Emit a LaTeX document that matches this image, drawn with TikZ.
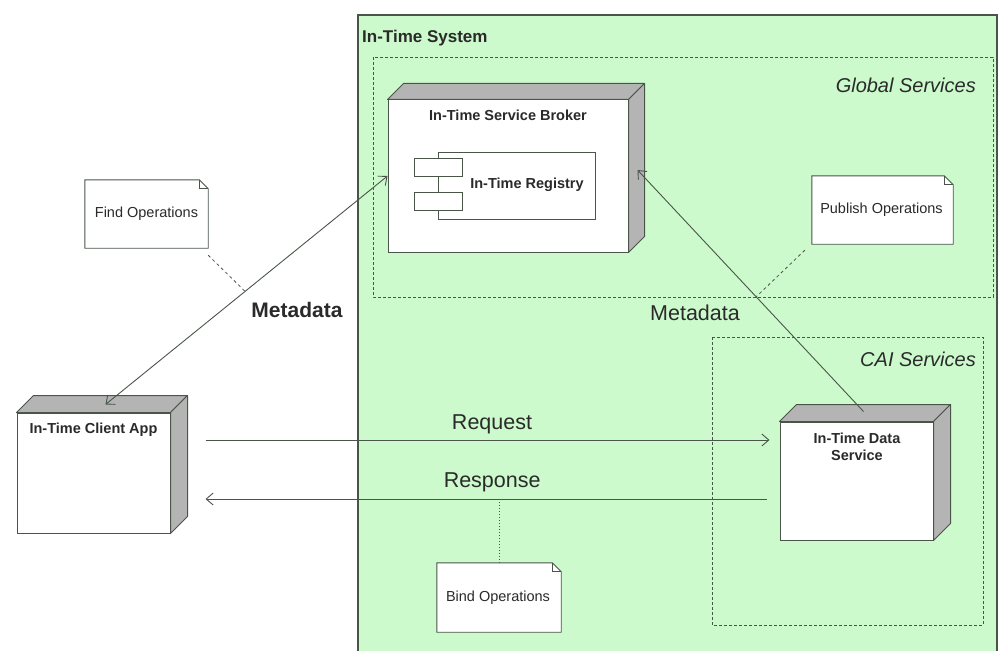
\documentclass[tikz,border=0pt]{standalone}
\usepackage{fontspec}
\setmainfont{Liberation Sans}
\usetikzlibrary{arrows.meta,calc}
\definecolor{sysgreen}{HTML}{CCFACC}
\definecolor{sidegray}{HTML}{B4B4B4}
\definecolor{linec}{HTML}{4A554A}
\definecolor{txt}{HTML}{2A2A2A}
\newcommand\devsides[2]{%
  \filldraw[sidegray,draw=linec,line width=1pt,line join=round] (#1.north west) -- ++(#2pt,#2pt) -- ($(#1.north east)+(#2pt,#2pt)$) -- (#1.north east) -- cycle;
  \filldraw[sidegray,draw=linec,line width=1pt,line join=round] (#1.north east) -- ($(#1.north east)+(#2pt,#2pt)$) -- ($(#1.south east)+(#2pt,#2pt)$) -- (#1.south east) -- cycle;}
\newcommand\noteshape[1]{%
  \filldraw[fill=white,draw=linec,line width=0.9pt] (#1.north west) -- ([xshift=-9pt]#1.north east) -- ([yshift=-9pt]#1.north east) -- (#1.south east) -- (#1.south west) -- cycle;
  \draw[linec,line width=0.9pt] ([xshift=-9pt]#1.north east) |- ([yshift=-9pt]#1.north east);}
\begin{document}
\begin{tikzpicture}[x=1pt,y=-1pt,
  face/.style={draw=linec,fill=white,line width=1pt,rectangle,inner sep=0pt},
  notearea/.style={rectangle,inner sep=0pt,draw=none},
  notetext/.style={font=\fontsize{14.5}{16}\selectfont,text=txt,inner sep=0pt},
  devtitle/.style={font=\fontsize{14.5}{17}\selectfont\bfseries,text=txt,align=center,inner sep=0pt},
  grouplabel/.style={font=\fontsize{20}{22}\selectfont\itshape,text=txt,anchor=east,inner sep=0pt},
  grp/.style={draw=linec,densely dashed,line width=0.8pt},
  arr/.style={draw=linec,line width=0.9pt,-{Straight Barb[length=7pt,width=12pt]}},
  biarr/.style={draw=linec,line width=0.9pt,{Straight Barb[length=7pt,width=12pt]}-{Straight Barb[length=7pt,width=12pt]}},
  msg/.style={font=\fontsize{21.5}{24}\selectfont,text=txt},
  tie/.style={draw=linec,dashed,line width=0.8pt}]
\useasboundingbox (0,0) rectangle (1000,650);
\clip (0,0) rectangle (1000,650);
% system frame
\filldraw[fill=sysgreen,draw=linec,line width=1.2pt] (358,15) rectangle (997,670);
\node[font=\fontsize{17}{19}\selectfont\bfseries,text=txt,anchor=west,inner sep=0pt] (systitle) at (362,38) {In-Time System};
% groups
\draw[grp] (373,57) rectangle (993,297);
\node[grouplabel] (globlabel) at (976,85) {Global Services};
\draw[grp] (712,337) rectangle (983,625);
\node[grouplabel] (cailabel) at (976,359) {CAI Services};
% broker
\node[face,minimum width=240pt,minimum height=152pt] (broker) at (508,176) {};
\devsides{broker}{16}
\node[devtitle] (brokertitle) at (508,115) {In-Time Service Broker};
\node[face,line width=0.9pt,minimum width=157pt,minimum height=67pt] (registry) at (516.5,185.5) {};
\node[face,line width=0.9pt,minimum width=48pt,minimum height=18pt] (regtab1) at (438,167) {};
\node[face,line width=0.9pt,minimum width=48pt,minimum height=18pt] (regtab2) at (438,201) {};
\node[devtitle] (regtitle) at (527,185) {In-Time Registry};
% client
\node[face,minimum width=153pt,minimum height=120pt] (client) at (93.5,473) {};
\devsides{client}{17}
\node[devtitle] (clienttitle) at (93.5,430) {In-Time Client App};
% data service
\node[face,minimum width=153pt,minimum height=118pt] (ds) at (856.5,481) {};
\devsides{ds}{17}
\node[devtitle] (dstitle) at (857,446.5) {In-Time Data\\Service};
% notes
\node[notearea,minimum width=123pt,minimum height=68pt] (findnote) at (146.5,214) {};
\noteshape{findnote}
\node[notetext] (findtext) at (146.5,214) {Find Operations};
\node[notearea,minimum width=141pt,minimum height=68pt] (pubnote) at (882.5,210) {};
\noteshape{pubnote}
\node[notetext] (pubtext) at (881.5,210) {Publish Operations};
\node[notearea,minimum width=124pt,minimum height=69pt] (bindnote) at (499,597.5) {};
\noteshape{bindnote}
\node[notetext] (bindtext) at (498,598) {Bind Operations};
% metadata connectors
\draw[biarr] ([shift={(12pt,8pt)}]client.north) -- coordinate[pos=0.495] (m1) (broker.west);
\draw[arr] ([shift={(7pt,10pt)}]ds.north) -- coordinate[pos=0.475] (m2) ([shift={(9pt,6pt)}]broker.east);
\node[msg,font=\fontsize{21}{24}\selectfont\bfseries] (meta1) at (297,310) {Metadata};
\node[msg] (meta2) at (695,313) {Metadata};
\draw[tie] ([shift={(0pt,-7pt)}]findnote.south east) -- (m1);
\draw[tie] ([shift={(-7pt,-6pt)}]pubnote.south west) -- (m2);
% request / response
\coordinate (rq) at ([shift={(35pt,33pt)}]client.east);
\coordinate (rs) at ([shift={(35pt,-26pt)}]client.east);
\draw[arr] (rq) -- node[msg,above=2pt,pos=0.508] (reqlabel) {Request} ([xshift=-10pt]ds.west |- rq);
\draw[arr] ([xshift=-13pt]ds.west |- rs) -- node[msg,above=3pt,pos=0.489] (resplabel) {Response} (rs);
\draw[linec,dotted,line width=1pt] (bindnote.north) -- (bindnote.north |- rs);
\end{tikzpicture}
\end{document}
